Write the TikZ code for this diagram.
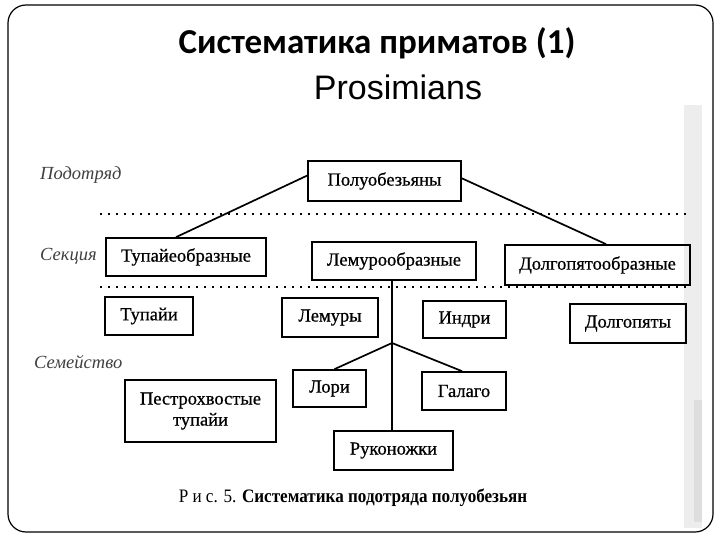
\documentclass[tikz,border=0pt]{standalone}
\usepackage{fontspec}
\setmainfont{Liberation Serif}
\newfontfamily\titlefont{Carlito}
\newfontfamily\prosfont{Liberation Sans}
\newfontfamily\boxfont{Liberation Serif}[FakeBold=0.7]
\newfontfamily\capfont{Liberation Serif}[FakeStretch=0.9]
\usetikzlibrary{calc}
\tikzset{
  box/.style={draw, line width=1.7pt, minimum height=#1, inner sep=0pt, font=\boxfont\fontsize{18.5}{21}\selectfont},
  box/.default=38pt,
  conn/.style={line width=1.7pt},
  dotline/.style={line width=1.9pt, dash pattern=on 1.9pt off 6.1pt},
  side/.style={font=\fontsize{18.5}{21}\selectfont\itshape, text=black!75, anchor=west, inner sep=0pt}
}
\begin{document}
\begin{tikzpicture}[x=1pt,y=-1pt]
\useasboundingbox (0,0) rectangle (720,540);
\fill[white] (0,0) rectangle (720,540);
% scan shadow strip
\fill[black!7] (684,105) rectangle (702,528);
\fill[black!13] (694,400) rectangle (702,522);
% frame
\draw[line width=1.2pt, rounded corners=18pt] (8,5) rectangle (713,532);
% titles
\node[font=\titlefont\bfseries\fontsize{35}{40}\selectfont] (title) at (377,43) {Систематика приматов (1)};
\node[font=\prosfont\fontsize{34}{38}\selectfont] (pros) at (398,87) {Prosimians};
% side labels
\node[side] (s1) at (40,175) {Подотряд};
\node[side] (s2) at (40,256) {Секция};
\node[side] (s3) at (34,362) {Семейство};
% dotted separators
\draw[dotline] (100,214) -- (690,214);
\draw[dotline] (100,287) -- (690,287);
% boxes
\node[box=40pt, minimum width=153pt] (p) at (384.5,181) {Полуобезьяны};
\node[box, minimum width=160pt] (t1) at (186,257) {Тупайеобразные};
\node[box, minimum width=164pt] (l1) at (394,261) {Лемурообразные};
\node[box=40pt, minimum width=185pt] (d1) at (597.5,265) {Долгопятообразные};
\node[box, minimum width=88pt] (t2) at (149,316) {Тупайи};
\node[box=39pt, minimum width=96pt] (l2) at (330,317.5) {Лемуры};
\node[box=37pt, minimum width=83pt] (i) at (464.5,319.5) {Индри};
\node[box=39pt, minimum width=116pt] (d2) at (628,323.5) {Долгопяты};
\node[box=62pt, minimum width=151pt, align=center] (t3) at (200.5,411) {Пестрохвостые\\тупайи};
\node[box=37pt, minimum width=73pt] (lo) at (329.5,388.5) {Лори};
\node[box, minimum width=84pt] (g) at (464,391) {Галаго};
\node[box=39pt, minimum width=119pt] (r) at (393.5,450.5) {Руконожки};
% caption
\node[font=\capfont\fontsize{19}{21}\selectfont] (cap) at (353,498) {Р и с. 5. \textbf{Систематика подотряда полуобезьян}};
% connectors
\draw[conn] (p.176) -- ($(t1.north)+(-10,0)$);
\draw[conn] ($(p.south)+(2.5,0)$) -- ($(p.south)+(2.5,0)$ |- l1.north);
\draw[conn] (p.2) -- ($(d1.north)+(8.5,0)$);
\draw[conn] ($(t1.south)+(-30,0)$) -- ($(t1.south)+(-30,0)$ |- t2.north);
\draw[conn] ($(t1.south)+(27,0)$) -- ($(t1.south)+(27,0)$ |- t3.north);
\draw[conn] ($(l1.south)+(-54,0)$) -- ($(l1.south)+(-54,0)$ |- l2.north);
\draw[conn] ($(l1.south)+(58,0)$) -- ($(l1.south)+(58,0)$ |- i.north);
\coordinate (br) at (392,343);
\draw[conn] ($(l1.south)+(-2,0)$) -- (br);
\draw[conn] (br) -- ($(lo.north)+(5,0)$);
\draw[conn] (br) -- ($(g.north)+(-2,0)$);
\draw[conn] (br) -- (br |- r.north);
\end{tikzpicture}
\end{document}
